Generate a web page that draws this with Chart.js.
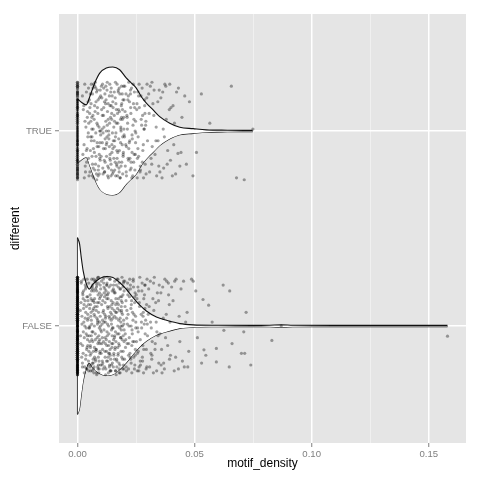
<!DOCTYPE html>
<html>
<head>
<meta charset="utf-8">
<script src="https://cdn.jsdelivr.net/npm/chart.js@4.4.1/dist/chart.umd.min.js"></script>
<style>
  html, body { margin: 0; padding: 0; background: #ffffff; }
  #wrap { width: 480px; height: 480px; }
</style>
</head>
<body>
<div id="wrap"><canvas id="violin" width="480" height="480"></canvas></div>
<script>
// axes
var categories = ['FALSE', 'TRUE'];          // sit at y = 1 and y = 2
var xTicks = [0, 0.05, 0.1, 0.15];
var xTickLabels = ['0.00', '0.05', '0.10', '0.15'];
var xMinorTicks = [0.025, 0.075, 0.125];
var xMin = -0.0079, xMax = 0.1659;
var yMin = 0.4, yMax = 2.6;

// violin outlines : motif_density and half width (in category units)
var trueViolinX = [0, 0.0018, 0.0037, 0.0055, 0.0075, 0.0095, 0.0123, 0.0151, 0.018, 0.0208, 0.023, 0.0251, 0.0272, 0.0294, 0.0323, 0.0351, 0.0394, 0.0437, 0.0494, 0.055, 0.064, 0.0748];
var trueViolinW = [0.165, 0.146, 0.134, 0.185, 0.25, 0.297, 0.323, 0.328, 0.314, 0.272, 0.246, 0.22, 0.177, 0.143, 0.108, 0.074, 0.04, 0.019, 0.012, 0.006, 0.004, 0.003];
var falseViolinX = [0, 0.0009, 0.0016, 0.0024, 0.0036, 0.005, 0.0066, 0.0095, 0.0123, 0.0151, 0.018, 0.0208, 0.0237, 0.0265, 0.0294, 0.0337, 0.038, 0.0437, 0.0494, 0.06, 0.075, 0.082, 0.087, 0.092, 0.11, 0.13, 0.158];
var falseViolinW = [0.453, 0.42, 0.352, 0.284, 0.223, 0.189, 0.215, 0.244, 0.254, 0.249, 0.223, 0.189, 0.146, 0.108, 0.077, 0.046, 0.029, 0.012, 0.006, 0.004, 0.003, 0.004, 0.006, 0.004, 0.003, 0.003, 0.003];

// jittered points [motif_density, y]
var truePoints = [
  [0.0021,2.18],[0.0034,1.79],[0.0042,2.07],[0.0028,1.93],[0.0047,2.22],[0.0039,1.84],[0.0025,2.11],[0.0044,1.97],[0.0031,2.24],[0.0049,1.77],
  [0.0036,2.02],[0.0023,1.88],[0.0045,2.15],[0.0029,1.76],[0.0041,1.91],[0.0038,2.20],[0.0048,2.04],[0.0033,1.82],[0.0046,1.99],[0.0027,2.13],
  [0.0052,2.09],[0.0067,1.81],[0.0074,2.23],[0.0059,1.95],[0.0088,2.16],[0.0093,1.78],[0.0061,2.01],[0.0079,1.87],[0.0085,2.12],[0.0097,2.21],
  [0.0055,1.90],[0.0071,2.06],[0.0082,1.75],[0.0064,2.19],[0.0099,1.98],[0.0077,1.83],[0.0058,2.14],[0.0091,1.92],[0.0069,2.24],[0.0086,2.03],
  [0.0053,1.79],[0.0075,2.10],[0.0095,1.86],[0.0062,1.97],[0.0081,2.20],[0.0089,1.80],[0.0066,2.08],[0.0072,1.89],[0.0094,2.17],[0.0057,2.05],
  [0.0084,1.94],[0.0098,2.00],[0.0063,1.77],[0.0078,2.22],
  [0.0032,2.05],[0.0047,1.86],[0.0055,2.19],[0.0068,1.91],[0.0073,2.13],[0.0081,1.78],[0.0092,2.02],[0.0059,2.24],[0.0064,1.83],[0.0087,2.09],
  [0.0096,1.94],[0.0051,2.16],[0.0078,1.99],[0.0069,1.76],[0.0085,2.21],[0.0043,2.10],[0.0093,1.88],[0.0061,2.07],[0.0074,1.80],[0.0099,2.18],
  [0.0056,1.97],[0.0083,2.04],[0.0066,2.22],[0.0090,1.82],[0.0071,1.95],[0.0038,1.90],[0.0079,2.15],[0.0095,2.00],[0.0062,1.87],[0.0088,1.77],
  [0.0053,2.12],[0.0076,2.25],[0.0097,1.85],[0.0067,2.01],[0.0084,1.92],
  [0.0103,2.11],[0.0118,1.84],[0.0126,2.21],[0.0134,1.96],[0.0141,2.07],[0.0109,1.78],[0.0122,2.16],[0.0147,1.89],[0.0113,2.02],[0.0138,2.24],
  [0.0129,1.82],[0.0106,1.94],[0.0144,2.13],[0.0117,2.19],[0.0132,1.76],[0.0149,1.99],[0.0111,2.08],[0.0124,1.87],[0.0137,2.04],[0.0102,2.23],
  [0.0145,1.80],[0.0119,1.91],[0.0128,2.10],[0.0140,1.85],[0.0115,2.15],[0.0133,2.00],[0.0108,1.81],[0.0126,1.97],[0.0148,2.18],[0.0121,2.05],
  [0.0136,1.92],[0.0112,2.22],[0.0143,1.77],[0.0105,2.01],[0.0131,2.14],[0.0139,1.88],[0.0116,1.79],[0.0127,2.25],[0.0146,2.06],[0.0123,1.93],
  [0.0152,2.12],[0.0167,1.83],[0.0174,2.20],[0.0159,1.95],[0.0188,2.07],[0.0193,1.78],[0.0161,2.17],[0.0179,1.90],[0.0185,2.02],[0.0197,2.23],
  [0.0155,1.86],[0.0171,2.09],[0.0182,1.76],[0.0164,2.14],[0.0199,1.98],[0.0177,1.81],[0.0158,2.05],[0.0191,1.93],[0.0169,2.24],[0.0186,2.00],
  [0.0153,1.79],[0.0175,2.11],[0.0195,1.87],[0.0162,1.97],[0.0181,2.19],[0.0189,1.84],[0.0166,2.04],[0.0172,1.89],[0.0194,2.16],[0.0157,2.08],
  [0.0184,1.94],[0.0198,2.01],[0.0163,1.77],[0.0178,2.22],[0.0151,1.91],[0.0187,2.13],[0.0168,1.82],[0.0192,2.06],
  [0.0104,2.17],[0.0115,1.79],[0.0127,2.03],[0.0138,1.86],[0.0142,2.20],[0.0153,1.95],[0.0166,2.11],[0.0171,1.77],[0.0184,2.06],[0.0196,1.89],
  [0.0109,1.99],[0.0121,2.23],[0.0133,1.81],[0.0146,2.09],[0.0158,1.92],[0.0162,2.25],[0.0177,1.84],[0.0189,2.14],[0.0193,1.97],[0.0101,1.87],
  [0.0112,2.12],[0.0125,1.94],[0.0136,2.18],[0.0149,1.78],[0.0155,2.02],[0.0168,1.90],[0.0174,2.21],[0.0186,1.82],[0.0198,2.07],[0.0107,2.24],
  [0.0118,1.96],[0.0131,2.06],[0.0143,1.83],[0.0151,2.15],[0.0164,1.99],[0.0179,2.10],[0.0182,1.76],[0.0191,2.19],[0.0114,1.85],[0.0123,2.00],
  [0.0139,2.13],[0.0147,1.93],[0.0159,1.80],[0.0172,2.04],[0.0188,2.23],[0.0195,1.88],[0.0106,2.08],[0.0129,1.77],[0.0134,1.98],[0.0157,2.20],
  [0.0169,1.86],[0.0176,1.96],[0.0185,2.01],[0.0199,2.16],[0.0111,1.91],[0.0120,2.14],[0.0144,2.22],[0.0161,1.84],[0.0178,1.79],[0.0192,2.11],
  [0.0203,2.10],[0.0218,1.85],[0.0226,2.21],[0.0234,1.96],[0.0241,2.06],[0.0209,1.77],[0.0222,2.15],[0.0247,1.88],[0.0213,2.01],[0.0238,2.24],
  [0.0229,1.81],[0.0206,1.93],[0.0244,2.12],[0.0217,2.18],[0.0232,1.76],[0.0249,1.99],[0.0211,2.08],[0.0224,1.86],[0.0237,2.03],[0.0202,2.23],
  [0.0245,1.80],[0.0219,1.91],[0.0228,2.09],[0.0240,1.84],[0.0215,2.16],[0.0233,1.98],[0.0208,1.79],[0.0226,2.19],[0.0248,2.05],[0.0221,1.94],
  [0.0254,2.14],[0.0268,1.82],[0.0276,2.22],[0.0259,1.97],[0.0288,2.09],[0.0293,1.78],[0.0261,2.18],[0.0279,1.90],[0.0285,2.01],[0.0297,2.24],
  [0.0256,1.86],[0.0272,2.06],[0.0282,1.76],[0.0264,2.12],[0.0299,1.95],[0.0277,1.84],[0.0258,2.20],[0.0291,2.03],[0.0269,1.80],[0.0286,2.16],
  [0.0204,1.82],[0.0212,2.07],[0.0223,1.95],[0.0231,2.22],[0.0242,1.88],[0.0253,2.11],[0.0267,1.79],[0.0274,2.03],[0.0281,1.93],[0.0296,2.17],
  [0.0207,2.19],[0.0216,1.86],[0.0227,2.12],[0.0236,1.77],[0.0246,2.00],[0.0258,1.91],[0.0263,2.24],[0.0278,2.08],[0.0289,1.83],[0.0292,2.05],
  [0.0201,1.97],[0.0219,2.25],[0.0225,1.80],[0.0239,2.14],[0.0248,1.94],[0.0255,1.76],[0.0271,2.18],[0.0284,2.01],[0.0214,2.04],[0.0233,1.89],
  [0.0243,2.20],[0.0261,1.87],[0.0287,2.13],[0.0209,1.92],[0.0229,1.84],
  [0.0304,2.19],[0.0317,1.83],[0.0326,2.08],[0.0338,1.77],[0.0311,2.23],[0.0344,1.95],[0.0322,2.14],[0.0331,1.88],[0.0349,2.21],[0.0308,1.79],
  [0.0336,2.02],[0.0319,1.92],[0.0306,2.09],[0.0314,1.86],[0.0327,2.21],[0.0335,1.95],[0.0343,2.15],[0.0318,2.25],[0.0347,1.82],
  [0.0356,2.17],[0.0368,1.81],[0.0373,2.24],[0.0385,1.90],[0.0392,2.11],[0.0361,1.76],[0.0379,2.06],[0.0397,1.85],[0.0364,2.20],
  [0.0352,1.79],[0.0366,2.01],[0.0377,2.23],[0.0383,1.83],[0.0399,2.12],[0.0371,1.97],[0.0394,2.24],
  [0.0408,2.13],[0.0419,1.78],[0.0431,2.22],[0.0442,1.89],[0.0414,2.04],[0.0437,1.82],[0.0411,1.93],[0.0423,2.20],[0.0429,1.885],[0.0446,2.07],
  [0.0458,2.18],[0.0405,1.77],
  [0.0465,1.83],[0.0478,2.15],[0.0493,1.77],[0.0508,1.89],[0.0529,2.19],
  [0.0565,2.04],[0.0657,2.23],[0.0679,1.76],[0.0712,1.75],[0.0749,2.01]
];
var trueZeros = [1.76,2.21,1.93,2.08,1.81,2.15,1.99,1.87,2.24,2.03,1.78,2.12,1.90,2.19,1.84,2.06,1.96,2.23,1.80,2.10,
  1.88,2.17,1.95,2.01,1.77,2.13,1.92,2.20,1.85,2.05,1.98,1.82,2.16,1.89,2.25,2.02,1.79,2.09,1.94,2.18,
  1.86,2.11,1.97,1.83,2.22,2.00,1.91,2.14,1.75,2.07,1.88,2.19,1.80,2.04,1.95,
  1.93,2.16,1.78,2.08,2.23,1.85,2.01,1.97,2.12,1.81,2.20,1.90,2.05,1.76,2.15,
  2.02,1.87,2.18,1.79,2.09,1.95,2.24,1.83,2.13,1.91,2.06,1.77,2.20,1.98,1.85,2.11,1.93,2.22,1.81,2.04,
  1.89,2.16,1.76,2.08,1.96,2.25,1.84,2.00,2.14,1.90,1.78,2.19,1.94,2.07,1.82,2.23,1.99,1.86,2.12,1.80];

var falsePoints = [
  [0.0012,1.08],[0.0021,0.81],[0.0034,1.19],[0.0043,0.93],[0.0027,1.02],[0.0048,0.77],[0.0016,1.22],[0.0039,0.88],[0.0025,0.97],[0.0045,1.13],
  [0.0031,0.79],[0.0019,1.05],[0.0041,1.24],[0.0036,0.85],[0.0023,1.16],[0.0049,0.99],[0.0014,0.91],[0.0038,1.10],[0.0029,0.76],[0.0046,1.04],
  [0.0033,1.21],[0.0018,0.84],[0.0042,0.95],[0.0026,1.18],[0.0047,0.82],[0.0035,1.07],[0.0022,0.90],[0.0044,1.15],[0.0031,1.00],[0.0017,1.23],
  [0.0040,0.78],[0.0028,1.11],[0.0049,0.87],[0.0037,0.96],[0.0024,1.14],
  [0.0052,1.09],[0.0067,0.81],[0.0074,1.23],[0.0059,0.95],[0.0088,1.16],[0.0093,0.78],[0.0061,1.01],[0.0079,0.87],[0.0085,1.12],[0.0097,1.21],
  [0.0055,0.90],[0.0071,1.06],[0.0082,0.75],[0.0064,1.19],[0.0099,0.98],[0.0077,0.83],[0.0058,1.14],[0.0091,0.92],[0.0069,1.24],[0.0086,1.03],
  [0.0053,0.79],[0.0075,1.10],[0.0095,0.86],[0.0062,0.97],[0.0081,1.20],[0.0089,0.80],[0.0066,1.08],[0.0072,0.89],[0.0094,1.17],[0.0057,1.05],
  [0.0084,0.94],[0.0098,1.00],[0.0063,0.77],[0.0078,1.22],[0.0054,0.85],[0.0068,1.13],[0.0076,0.96],[0.0087,1.25],[0.0092,0.82],[0.0060,1.18],
  [0.0083,1.04],[0.0096,0.91],[0.0070,0.76],[0.0056,1.11],[0.0080,0.88],[0.0090,1.07],[0.0065,1.21],[0.0073,0.84],[0.0098,1.15],[0.0051,0.99],
  [0.0086,0.79],[0.0061,0.93],[0.0077,1.19],[0.0094,1.02],[0.0068,0.87],[0.0083,1.24],[0.0058,0.80],[0.0091,0.95],[0.0072,1.12],[0.0088,0.78],
  [0.0013,0.95],[0.0022,1.17],[0.0035,0.83],[0.0044,1.06],[0.0052,0.92],[0.0063,1.20],[0.0071,0.79],[0.0085,1.01],[0.0094,1.14],[0.0058,0.86],
  [0.0027,1.24],[0.0039,0.78],[0.0047,1.11],[0.0066,0.97],[0.0078,1.23],[0.0089,0.84],[0.0097,1.05],[0.0054,1.16],[0.0019,1.01],[0.0032,1.13],
  [0.0041,0.89],[0.0069,1.09],[0.0076,0.93],[0.0082,1.18],[0.0091,0.76],[0.0059,1.03],[0.0024,0.86],[0.0037,0.99],[0.0048,1.22],[0.0064,0.81],
  [0.0073,1.14],[0.0087,0.91],[0.0099,1.19],[0.0056,0.77],[0.0015,1.12],[0.0029,0.94],[0.0043,1.03],[0.0061,1.24],[0.0079,0.88],[0.0093,0.99],
  [0.0067,0.83],[0.0084,1.10],[0.0053,1.00],[0.0036,1.20],[0.0046,0.80],[0.0074,1.05],[0.0089,1.22],[0.0096,0.87],[0.0058,1.07],[0.0021,0.79],
  [0.0033,1.04],[0.0065,0.92],[0.0081,0.76],[0.0092,1.12],[0.0070,1.18],[0.0050,0.95],[0.0040,1.15],[0.0077,0.82],[0.0086,1.02],[0.0098,0.80],
  [0.0062,1.13],[0.0055,0.89],[0.0072,1.00],[0.0083,1.21],[0.0095,0.93],[0.0026,1.09],[0.0044,0.90],[0.0068,0.78],[0.0080,1.08],[0.0090,1.25],
  [0.0103,1.11],[0.0118,0.84],[0.0126,1.21],[0.0134,0.96],[0.0141,1.07],[0.0109,0.78],[0.0122,1.16],[0.0147,0.89],[0.0113,1.02],[0.0138,1.24],
  [0.0129,0.82],[0.0106,0.94],[0.0144,1.13],[0.0117,1.19],[0.0132,0.76],[0.0149,0.99],[0.0111,1.08],[0.0124,0.87],[0.0137,1.04],[0.0102,1.23],
  [0.0145,0.80],[0.0119,0.91],[0.0128,1.10],[0.0140,0.85],[0.0115,1.15],[0.0133,1.00],[0.0108,0.81],[0.0126,0.97],[0.0148,1.18],[0.0121,1.05],
  [0.0136,0.92],[0.0112,1.22],[0.0143,0.77],[0.0105,1.01],[0.0131,1.14],[0.0139,0.88],[0.0116,0.79],[0.0127,1.25],[0.0146,1.06],[0.0123,0.93],
  [0.0101,0.86],[0.0114,1.17],[0.0125,0.90],[0.0135,1.20],[0.0142,0.83],[0.0107,1.03],[0.0120,0.75],[0.0130,1.09],[0.0148,0.95],[0.0110,1.24],
  [0.0137,0.80],[0.0118,1.12],[0.0145,1.01],[0.0104,0.91],[0.0129,1.16],[0.0139,0.77],[0.0113,0.98],[0.0124,1.21],[0.0133,0.86],[0.0147,1.11],
  [0.0119,1.04],[0.0106,0.82],
  [0.0102,0.97],[0.0113,1.20],[0.0124,0.82],[0.0135,1.05],[0.0146,0.91],[0.0157,1.17],[0.0168,0.79],[0.0179,1.08],[0.0185,0.94],[0.0196,1.22],
  [0.0108,1.13],[0.0117,0.87],[0.0128,1.01],[0.0139,1.24],[0.0141,0.77],[0.0152,0.99],[0.0163,1.11],[0.0174,0.86],[0.0189,1.15],[0.0193,0.83],
  [0.0105,0.80],[0.0116,1.06],[0.0122,1.18],[0.0133,0.90],[0.0144,1.03],[0.0155,0.85],[0.0166,1.21],[0.0177,0.96],[0.0182,1.04],[0.0198,0.78],
  [0.0111,0.92],[0.0125,1.14],[0.0136,0.79],[0.0148,1.09],[0.0159,1.23],[0.0161,0.89],[0.0172,1.00],[0.0184,1.19],[0.0195,0.95],[0.0103,1.16],
  [0.0119,1.02],[0.0131,0.84],[0.0142,1.21],[0.0154,0.93],[0.0167,1.07],[0.0178,0.76],[0.0187,0.98],[0.0191,1.12],[0.0107,0.88],[0.0114,1.25],
  [0.0127,0.95],[0.0138,1.10],[0.0149,0.81],[0.0153,1.19],[0.0164,0.92],[0.0175,1.14],[0.0181,0.80],[0.0197,1.03],[0.0109,1.07],[0.0121,0.78],
  [0.0132,1.17],[0.0145,0.98],[0.0158,0.83],[0.0169,1.12],[0.0173,1.24],[0.0186,0.87],[0.0192,1.00],[0.0118,0.94],[0.0126,1.22],[0.0137,0.86],
  [0.0151,1.04],[0.0162,0.77],[0.0176,0.91],[0.0188,1.08],[0.0199,1.18],
  [0.0152,1.12],[0.0167,0.83],[0.0174,1.20],[0.0159,0.95],[0.0188,1.07],[0.0193,0.78],[0.0161,1.17],[0.0179,0.90],[0.0185,1.02],[0.0197,1.23],
  [0.0155,0.86],[0.0171,1.09],[0.0182,0.76],[0.0164,1.14],[0.0199,0.98],[0.0177,0.81],[0.0158,1.05],[0.0191,0.93],[0.0169,1.24],[0.0186,1.00],
  [0.0153,0.79],[0.0175,1.11],[0.0195,0.87],[0.0162,0.97],[0.0181,1.19],[0.0189,0.84],[0.0166,1.04],[0.0172,0.89],[0.0194,1.16],[0.0157,1.08],
  [0.0184,0.94],[0.0198,1.01],[0.0163,0.77],[0.0178,1.22],[0.0151,0.91],[0.0187,1.13],[0.0168,0.82],[0.0192,1.06],[0.0154,1.21],[0.0170,0.96],
  [0.0183,1.15],[0.0196,0.80],[0.0160,0.88],[0.0176,1.03],[0.0190,1.25],[0.0165,0.75],[0.0180,0.99],[0.0156,1.18],[0.0173,0.85],[0.0187,1.10],
  [0.0199,0.92],[0.0163,1.07],[0.0178,0.78],[0.0194,1.20],[0.0158,0.94],
  [0.0203,1.10],[0.0218,0.85],[0.0226,1.21],[0.0234,0.96],[0.0241,1.06],[0.0209,0.77],[0.0222,1.15],[0.0247,0.88],[0.0213,1.01],[0.0238,1.24],
  [0.0229,0.81],[0.0206,0.93],[0.0244,1.12],[0.0217,1.18],[0.0232,0.76],[0.0249,0.99],[0.0211,1.08],[0.0224,0.86],[0.0237,1.03],[0.0202,1.23],
  [0.0245,0.80],[0.0219,0.91],[0.0228,1.09],[0.0240,0.84],[0.0215,1.16],[0.0233,0.98],[0.0208,0.79],[0.0226,1.19],[0.0248,1.05],[0.0221,0.94],
  [0.0205,0.89],[0.0214,1.22],[0.0231,1.13],[0.0243,0.78],[0.0236,0.92],[0.0210,1.04],[0.0227,0.83],[0.0246,1.17],[0.0220,1.00],[0.0239,1.20],
  [0.0204,0.96],[0.0213,1.19],[0.0225,0.84],[0.0235,1.07],[0.0242,0.92],[0.0251,1.16],[0.0263,0.79],[0.0273,1.02],[0.0287,1.21],[0.0294,0.88],
  [0.0207,1.13],[0.0218,0.78],[0.0229,1.00],[0.0238,1.23],[0.0247,0.85],[0.0257,0.99],[0.0265,1.10],[0.0278,0.82],[0.0283,1.14],[0.0298,1.01],
  [0.0201,0.83],[0.0216,1.06],[0.0223,1.24],[0.0232,0.90],[0.0244,1.15],[0.0255,0.77],[0.0268,0.93],[0.0275,1.18],[0.0289,0.96],[0.0212,0.91],
  [0.0230,1.11],[0.0249,1.02],[0.0260,0.87],[0.0281,1.07],[0.0296,0.79],
  [0.0254,1.14],[0.0268,0.82],[0.0276,1.22],[0.0259,0.97],[0.0288,1.09],[0.0293,0.78],[0.0261,1.18],[0.0279,0.90],[0.0285,1.01],[0.0297,1.24],
  [0.0256,0.86],[0.0272,1.06],[0.0282,0.76],[0.0264,1.12],[0.0299,0.95],[0.0277,0.84],[0.0258,1.20],[0.0291,1.03],[0.0269,0.80],[0.0286,1.16],
  [0.0252,0.92],[0.0266,1.25],[0.0283,0.88],[0.0295,1.11],[0.0274,0.99],[0.0262,0.77],[0.0289,1.21],[0.0280,1.05],
  [0.0304,1.19],[0.0317,0.83],[0.0326,1.08],[0.0338,0.77],[0.0311,1.23],[0.0344,0.95],[0.0322,1.14],[0.0331,0.88],[0.0349,1.21],[0.0308,0.79],
  [0.0336,1.02],[0.0319,0.92],[0.0341,1.17],[0.0313,0.86],[0.0328,1.25],[0.0347,0.81],[0.0302,1.06],[0.0334,1.12],[0.0324,0.76],[0.0315,0.99],
  [0.0306,1.10],[0.0318,0.85],[0.0325,1.22],[0.0339,0.97],[0.0346,1.13],[0.0332,0.91],[0.0312,1.02],
  [0.0356,1.17],[0.0368,0.81],[0.0373,1.24],[0.0385,0.90],[0.0392,1.11],[0.0361,0.76],[0.0379,1.06],[0.0397,0.85],[0.0364,1.20],[0.0352,0.96],
  [0.0388,1.22],[0.0371,0.78],[0.0395,1.02],[0.0359,0.88],[0.0357,0.80],[0.0366,1.04],[0.0381,1.23],[0.0393,0.83],[0.0376,0.94],[0.0389,1.16],
  [0.0408,1.13],[0.0415,1.23],[0.0431,0.78],[0.0442,1.19],[0.0419,0.84],[0.0437,0.92],[0.0456,0.79],[0.0468,1.07],[0.0487,1.24],[0.0494,1.23],
  [0.0475,0.87],[0.0462,1.02],[0.0402,1.20],[0.0413,0.77],[0.0421,1.24],[0.0434,1.05],[0.0448,0.82],[0.0453,1.23],[0.0471,0.79],
  [0.0505,1.18],[0.0512,0.94],[0.0530,0.81],[0.0536,1.136],[0.0540,0.878],[0.0560,1.107],[0.0548,0.85],[0.0575,1.02],
  [0.0622,1.21],[0.0650,1.18],[0.0720,1.07],[0.0830,0.926],[0.0870,1.00],[0.0710,0.97],[0.0660,0.91],[0.0700,0.86],[0.0714,0.86],[0.0593,0.885],
  [0.0593,0.816],[0.0648,0.79],[0.0740,0.80],[0.0625,0.978],[0.1580,0.948]
];
var falseZeros = [0.76,1.18,0.93,1.04,0.81,1.22,0.97,1.09,0.85,1.15,0.79,1.01,1.24,0.88,1.12,0.94,0.77,1.06,1.20,0.90,
  1.03,0.83,1.17,0.96,1.10,0.75,1.23,0.87,1.00,1.14,0.80,1.07,0.92,1.19,0.84,1.11,0.98,1.25,0.78,1.05,
  0.91,1.16,0.86,1.02,1.21,0.95,0.82,1.13,1.08,0.77,0.99,1.24,0.89,1.06,0.93,1.18,0.80,1.11,0.97,1.03,
  1.20,0.84,1.09,0.76,1.15,0.92,1.01,0.87,1.23,0.79,1.12,0.95,1.05,0.82,1.17,0.90,1.00,0.78,1.14,0.86,
  1.07,0.98,1.22,0.81,1.10,0.94,0.75,1.19,1.02,0.88,1.16,0.83,1.04,1.25,0.91,1.08,0.96,1.13,0.77,1.21,
  0.85,1.00,1.18,0.93,1.06,0.79,1.24,0.89,1.11,0.97,0.82,1.15,1.03,0.76,1.09,0.92,1.20,0.86,1.01,1.14,
  0.80,1.12,0.95,1.07,0.84,1.23,0.99,1.04,0.78,1.17,0.90,1.10,0.87,1.19,0.94,1.02,0.81,1.16,0.98,1.08,
  1.25,0.83,1.05,0.91,1.13,0.77,1.21,0.96,1.00,0.88,1.18,0.85,1.09,0.93,1.22,0.79,1.06,0.97,1.14,0.82,
  0.84,1.07,0.96,1.19,0.78,1.03,1.14,0.89,1.22,0.93,0.80,1.10,0.98,1.16,0.86,1.01,1.24,0.91,1.05,0.77,
  1.18,0.94,1.12,0.83,1.08,0.99,1.21,0.87,1.02,0.75,1.15,0.92,1.06,0.81,1.23,0.97,1.11,0.88,1.00,1.17,
  0.79,1.04,0.95,1.20,0.85,1.09,0.90,1.13,0.76,1.25,0.82,1.06,0.97,1.19,0.88,1.02,0.93,1.15,0.80,1.08,
  1.22,0.86,1.00,0.94,1.11,0.78,1.17,0.91,1.04,0.83,1.21,0.98,1.09,0.87,1.13,0.76,1.03,0.95,1.18,0.89];

var FONT = "'Liberation Sans', Arial, Helvetica, sans-serif";
var POINT_COLOR = 'rgba(0,0,0,0.36)';

function toPoints(pairs, zeros) {
  var pts = pairs.map(function(p) { return {x: p[0], y: p[1]}; });
  zeros.forEach(function(y) { pts.push({x: 0, y: y}); });
  return pts;
}

// one side of a violin, centre +/- half width
function outline(xs, ws, centre, sign) {
  return xs.map(function(x, i) { return {x: x, y: centre + sign * ws[i]}; });
}

function pointSet(data) {
  return {
    data: data, showLine: false, pointRadius: 1.6, pointHoverRadius: 1.6,
    pointBackgroundColor: POINT_COLOR, pointBorderWidth: 0, order: 0
  };
}

function edgeSet(data, fill) {
  return {
    data: data, showLine: true, pointRadius: 0, borderColor: '#111111', borderWidth: 1.1,
    backgroundColor: '#ffffff', fill: fill, cubicInterpolationMode: 'monotone', order: 1
  };
}

function capSet(xs, ws, centre) {
  return {
    data: [{x: xs[0], y: centre - ws[0]}, {x: xs[0], y: centre + ws[0]}],
    showLine: true, pointRadius: 0, borderColor: '#111111', borderWidth: 1.1, fill: false, tension: 0, order: 1
  };
}

// grey panel behind the grid
var panelBg = {
  id: 'panelBg',
  beforeDraw: function(chart) {
    var a = chart.chartArea, c = chart.ctx;
    c.save();
    c.fillStyle = '#E5E5E5';
    c.fillRect(a.left, a.top, a.right - a.left, a.bottom - a.top);
    c.restore();
  }
};

var xGridValues = xTicks.concat(xMinorTicks).sort(function(a, b) { return a - b; });

new Chart(document.getElementById('violin'), {
  type: 'scatter',
  data: {
    datasets: [
      pointSet(toPoints(truePoints, trueZeros)),
      pointSet(toPoints(falsePoints, falseZeros)),
      edgeSet(outline(trueViolinX, trueViolinW, 2, 1), '+1'),
      edgeSet(outline(trueViolinX, trueViolinW, 2, -1), false),
      capSet(trueViolinX, trueViolinW, 2),
      edgeSet(outline(falseViolinX, falseViolinW, 1, 1), '+1'),
      edgeSet(outline(falseViolinX, falseViolinW, 1, -1), false),
      capSet(falseViolinX, falseViolinW, 1)
    ]
  },
  options: {
    responsive: false,
    animation: false,
    devicePixelRatio: 1,
    layout: { padding: { top: 14, right: 14, left: 0, bottom: 0 } },
    plugins: { legend: { display: false }, tooltip: { enabled: false } },
    scales: {
      x: {
        type: 'linear', min: xMin, max: xMax,
        afterBuildTicks: function(s) { s.ticks = xGridValues.map(function(v) { return {value: v}; }); },
        afterFit: function(s) { s.height = 37; },
        border: { display: false },
        grid: {
          color: function(c) { return xMinorTicks.indexOf(c.tick && c.tick.value) >= 0 ? '#F2F2F2' : '#FFFFFF'; },
          lineWidth: function(c) { return xMinorTicks.indexOf(c.tick && c.tick.value) >= 0 ? 0.8 : 1.5; },
          tickColor: function(c) { return xMinorTicks.indexOf(c.tick && c.tick.value) >= 0 ? 'rgba(0,0,0,0)' : '#7F7F7F'; },
          tickLength: 4, tickWidth: 1
        },
        ticks: {
          autoSkip: false, maxRotation: 0, padding: 2, color: '#7F7F7F',
          font: { family: FONT, size: 9.6 },
          callback: function(v) { var i = xTicks.indexOf(v); return i >= 0 ? xTickLabels[i] : ''; }
        },
        title: { display: true, text: 'motif_density', color: '#000000', font: { family: FONT, size: 12 }, padding: { top: 0, bottom: 9 } }
      },
      y: {
        type: 'linear', min: yMin, max: yMax,
        afterBuildTicks: function(s) { s.ticks = [{value: 1}, {value: 2}]; },
        afterFit: function(s) { s.width = 59; },
        border: { display: false },
        grid: { color: '#FFFFFF', lineWidth: 1.5, tickColor: '#7F7F7F', tickLength: 4, tickWidth: 1 },
        ticks: {
          padding: 3, color: '#7F7F7F', font: { family: FONT, size: 9.6 },
          callback: function(v) { return categories[v - 1]; }
        },
        title: { display: true, text: 'different', color: '#000000', font: { family: FONT, size: 12 }, padding: { top: 8, bottom: 0 } }
      }
    }
  },
  plugins: [panelBg]
});
</script>
</body>
</html>
